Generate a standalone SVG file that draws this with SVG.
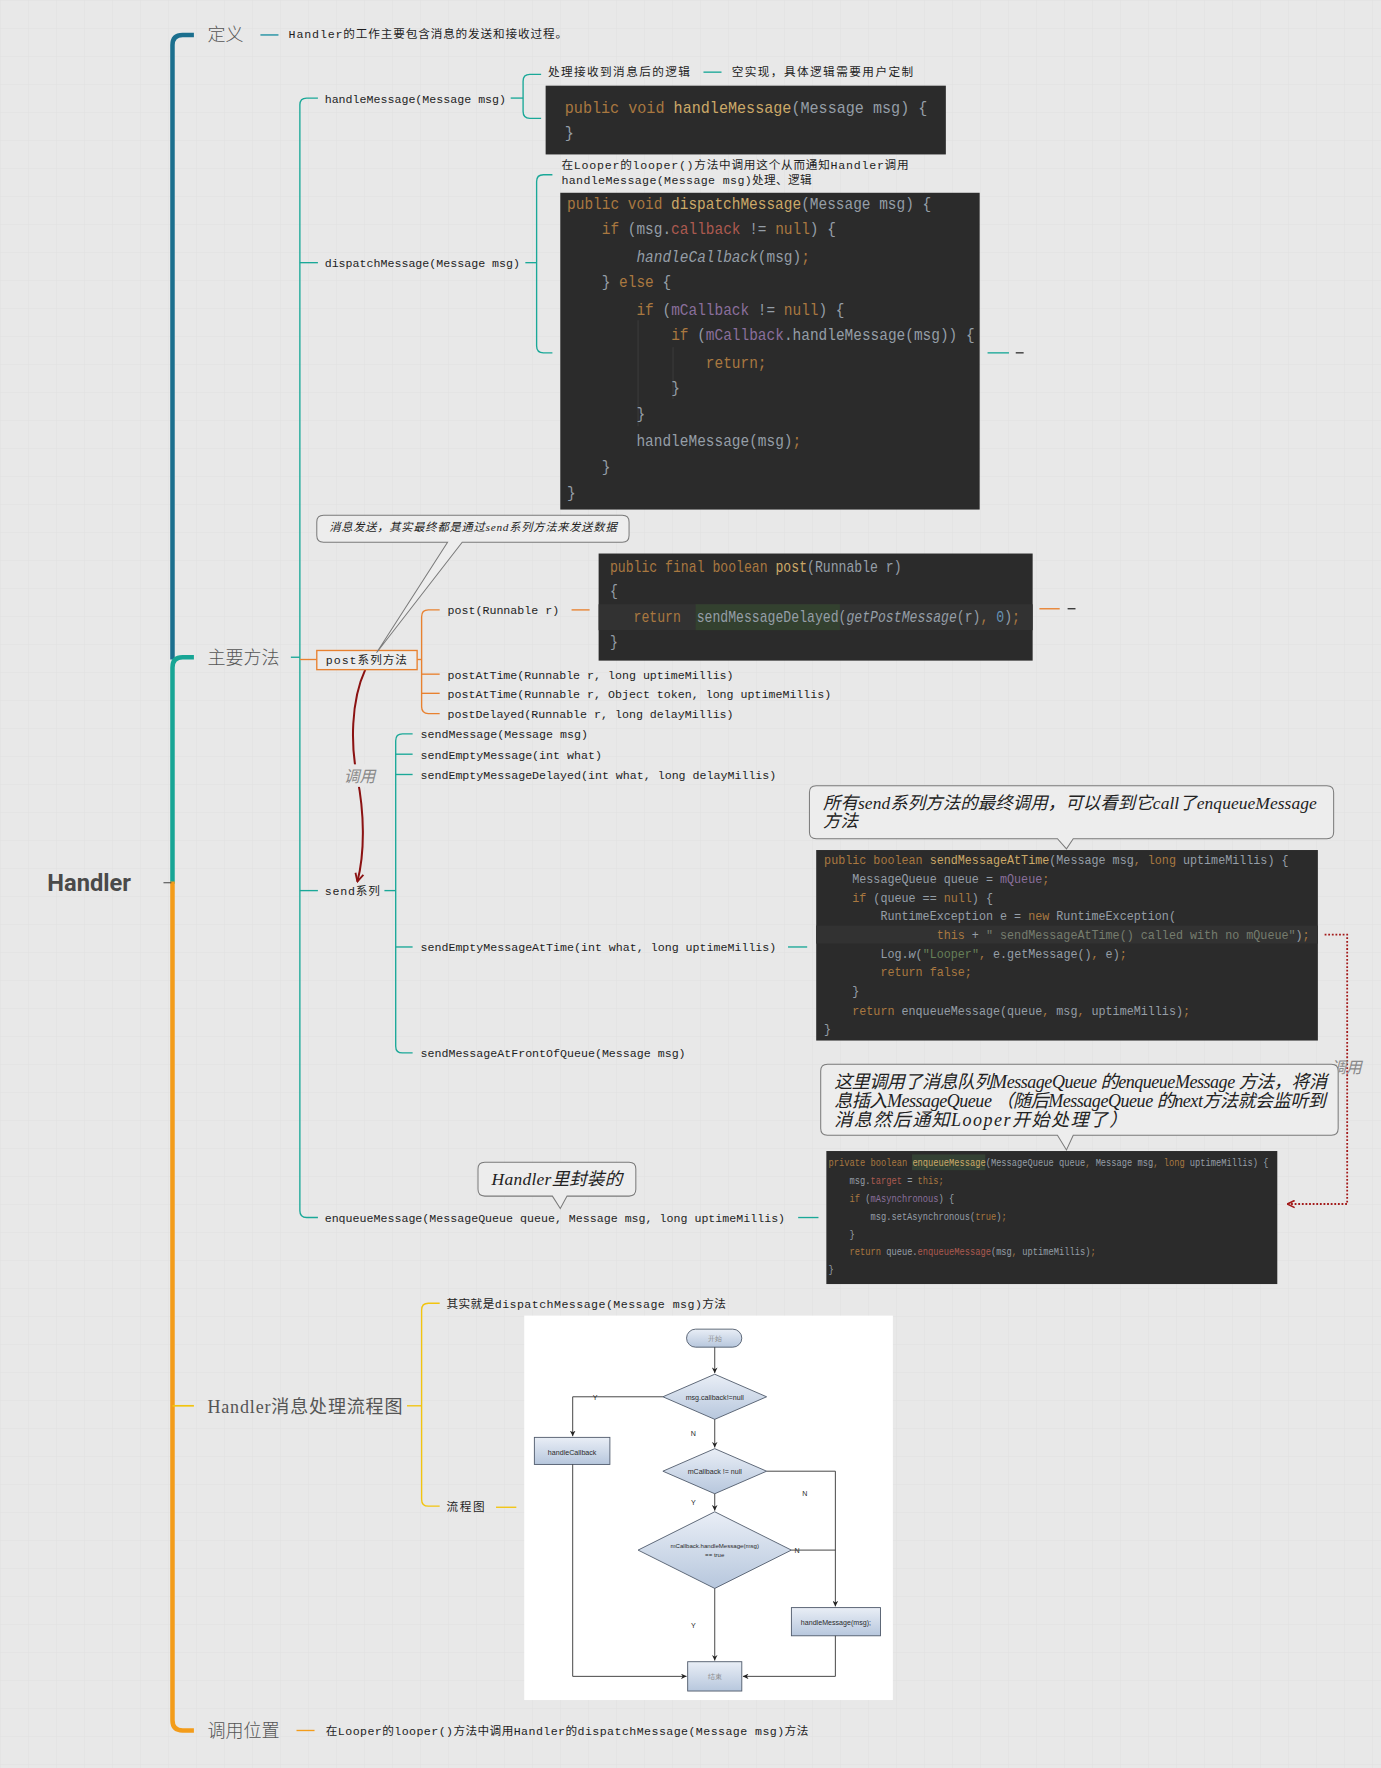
<svg xmlns="http://www.w3.org/2000/svg" width="1381" height="1768" viewBox="0 0 1381 1768">
<defs>
<style>
.t{font-family:"Liberation Mono","Noto Sans CJK SC",monospace;font-size:10.33px;fill:#1e1e1e}
.top{font-family:"Noto Sans CJK SC","Liberation Sans",sans-serif;font-size:16px;fill:#555;font-weight:300}
.topS{font-family:"Liberation Serif","Noto Sans CJK SC",serif;font-size:16px;fill:#555}
.root{font-family:Roboto,"Liberation Sans",sans-serif;font-weight:700;font-size:21px;fill:#4a4a4a}
.cl{font-family:"Liberation Serif","Noto Sans CJK SC",serif;font-style:italic;fill:#222}
.lbl{font-family:"Noto Sans CJK SC","Liberation Sans",sans-serif;font-style:italic;font-size:14px;fill:#8a8a8a}
.code{font-family:"Liberation Mono",monospace;white-space:pre;fill:#959ea7}
.k{fill:#a97840}.m{fill:#cba968}.p{fill:#8a6f9c}.r{fill:#ad5a50}.s{fill:#667f58}.sg{fill:#767d6e}.n{fill:#6590b2}.it{font-style:italic}
.box{fill:#2b2b2b}
.lt{stroke:#1aa898;fill:none;stroke-width:1.2}
.lo{stroke:#e8812f;fill:none;stroke-width:1.2}
.ly{stroke:#f2c40f;fill:none;stroke-width:1.2}
.co{fill:#ededed;stroke:#7a7a7a;stroke-width:0.9}
.fs{fill:url(#fg);stroke:#4f5a6b;stroke-width:0.8}
.ft{font-family:"Liberation Sans",Arial,sans-serif;font-size:6.3px;fill:#2a2a2a;text-anchor:middle}
.fl{stroke:#333;stroke-width:0.8;fill:none}
</style>
<linearGradient id="fg" x1="0" y1="0" x2="0" y2="1">
<stop offset="0" stop-color="#e9eef6"/>
<stop offset="1" stop-color="#b7c7dd"/>
</linearGradient>
<pattern id="grid" width="28" height="28" patternUnits="userSpaceOnUse">
<path d="M28 0 L0 0 0 28" fill="none" stroke="#dedede" stroke-width="0.8"/>
</pattern>
<marker id="fa" viewBox="0 0 8 8" refX="8" refY="4" markerWidth="5" markerHeight="5" markerUnits="userSpaceOnUse" orient="auto">
<path d="M0,0 L8,4 L0,8 L2.5,4 z" fill="#222"/>
</marker>
<marker id="ra" viewBox="0 0 10 10" refX="9" refY="5" markerWidth="9" markerHeight="9" markerUnits="userSpaceOnUse" orient="auto">
<path d="M1,1 L9,5 L1,9" fill="none" stroke="#8b1212" stroke-width="1.8"/>
</marker>
<marker id="rd" viewBox="0 0 10 10" refX="9" refY="5" markerWidth="8" markerHeight="8" markerUnits="userSpaceOnUse" orient="auto">
<path d="M1,1 L9,5 L1,9" fill="none" stroke="#a31a1a" stroke-width="1.8"/>
</marker>
</defs>
<rect width="1381" height="1768" fill="#e8e8e8"/>
<rect width="1381" height="1768" fill="url(#grid)"/>
<g transform="scale(1.12735)">

<g id="connectors">
<path d="M172 31 L162 31 Q153 31 153 40 L153 585" stroke="#1b6f8e" stroke-width="4" fill="none"/>
<path d="M172 583 L162 583 Q153 583 153 592 L153 784" stroke="#17a595" stroke-width="4" fill="none"/>
<path d="M153 782 L153 1526 Q153 1535 162 1535 L172 1535" stroke="#f39c1a" stroke-width="4" fill="none"/>
<path d="M153 1247 Q160 1247 163 1247 L172 1247" stroke="#f2c40f" stroke-width="1.5" fill="none"/>
<line x1="145" y1="783" x2="152" y2="783" stroke="#555" stroke-width="1"/>
<line x1="231" y1="31" x2="247" y2="31" stroke="#1a8ea0" stroke-width="1.2"/>
<line x1="258" y1="583" x2="266" y2="583" class="lt"/>
<path d="M282 87 L272 87 Q266 87 266 93 L266 1074 Q266 1080 272 1080 L282 1080" class="lt"/>
<line x1="266" y1="233" x2="282" y2="233" class="lt"/>
<line x1="266" y1="790" x2="282" y2="790" class="lt"/>
<line x1="266" y1="585" x2="281" y2="585" class="lo"/>
<line x1="453" y1="87" x2="464" y2="87" class="lt"/>
<path d="M480 66 L470 66 Q464 66 464 72 L464 99 Q464 105 470 105 L480 105" class="lt"/>
<line x1="466" y1="233" x2="476" y2="233" class="lt"/>
<path d="M490 155 L482 155 Q476 155 476 161 L476 307 Q476 313 482 313 L490 313" class="lt"/>
<line x1="876" y1="313" x2="895" y2="313" class="lt"/>
<line x1="624" y1="64" x2="640" y2="64" class="lt"/>
<line x1="370" y1="585" x2="374" y2="585" class="lo"/>
<path d="M390 541 L380 541 Q374 541 374 547 L374 627 Q374 633 380 633 L390 633" class="lo"/>
<line x1="374" y1="598" x2="390" y2="598" class="lo"/>
<line x1="374" y1="615" x2="390" y2="615" class="lo"/>
<line x1="507" y1="541" x2="523" y2="541" class="lo"/>
<line x1="922" y1="540" x2="940" y2="540" class="lo"/>
<line x1="341" y1="790" x2="351" y2="790" class="lt"/>
<path d="M366 651 L357 651 Q351 651 351 657 L351 928 Q351 934 357 934 L366 934" class="lt"/>
<line x1="351" y1="669" x2="366" y2="669" class="lt"/>
<line x1="351" y1="687" x2="366" y2="687" class="lt"/>
<line x1="351" y1="840" x2="366" y2="840" class="lt"/>
<line x1="699" y1="840" x2="716" y2="840" class="lt"/>
<line x1="708" y1="1080" x2="726" y2="1080" class="lt"/>
<line x1="361" y1="1247" x2="374" y2="1247" class="ly"/>
<path d="M390 1156 L380 1156 Q374 1156 374 1162 L374 1330 Q374 1336 380 1336 L390 1336" class="ly"/>
<line x1="440" y1="1337" x2="458" y2="1337" class="ly"/>
<line x1="263" y1="1535" x2="279" y2="1535" stroke="#f39c1a" stroke-width="1.2"/>
<path d="M324 594 C311 622 311 662 317 690 C323 720 324 755 317 782" stroke="#8b1212" stroke-width="1.8" fill="none" marker-end="url(#ra)"/>
<rect x="303" y="678" width="34" height="20" fill="#e8e8e8"/>
<text x="305" y="694" class="lbl">调用</text>
<path d="M1175 829 L1195 829 L1195 1068 L1142 1068" stroke="#a31a1a" stroke-width="1.6" stroke-dasharray="1.6 1.6" fill="none" marker-end="url(#rd)"/>
<text x="1180" y="952" class="lbl" fill="#999">调用</text>
</g>

<g id="root"><text x="42" y="790.5" class="root">Handler</text></g>

<g id="n-def">
<text x="184" y="36" class="top">定义</text>
<text x="256" y="34" class="t" textLength="247" lengthAdjust="spacing">Handler的工作主要包含消息的发送和接收过程。</text>
</g>

<g id="n-main"><text x="184" y="589" class="top">主要方法</text></g>

<g id="n-handleMessage">
<text x="288" y="91" class="t">handleMessage(Message msg)</text>
<text x="486" y="67" class="t" textLength="126" lengthAdjust="spacing">处理接收到消息后的逻辑</text>
<text x="649" y="67" class="t" textLength="161" lengthAdjust="spacing">空实现，具体逻辑需要用户定制</text>
<rect x="484" y="76" width="355" height="61" class="box"/>
<g transform="translate(501 0) scale(0.958 1)" font-size="14">
<text y="100" class="code"><tspan class="k">public void </tspan><tspan class="m">handleMessage</tspan>(Message msg) {</text>
<text y="122" class="code">}</text>
</g>
</g>

<g id="n-dispatchMessage">
<text x="288" y="237" class="t">dispatchMessage(Message msg)</text>
<text x="498" y="150" class="t" textLength="308" lengthAdjust="spacing">在Looper的looper()方法中调用这个从而通知Handler调用</text>
<text x="498" y="163" class="t" textLength="222" lengthAdjust="spacing">handleMessage(Message msg)处理、逻辑</text>
<rect x="497" y="171" width="372" height="281" class="box"/>
<line x1="566" y1="284" x2="566" y2="378" stroke="#3b3b3b" stroke-width="1"/>
<line x1="597" y1="308" x2="597" y2="354" stroke="#3b3b3b" stroke-width="1"/>
<g transform="translate(503 0) scale(0.855 1)" font-size="15">
<text x="0" y="185" class="code"><tspan class="k">public void </tspan><tspan class="m">dispatchMessage</tspan>(Message msg) {</text>
<text x="36" y="208" class="code"><tspan class="k">if</tspan> (msg.<tspan class="r">callback</tspan> != <tspan class="k">null</tspan>) {</text>
<text x="72" y="232" class="code"><tspan class="it">handleCallback</tspan>(msg)<tspan class="k">;</tspan></text>
<text x="36" y="255" class="code">} <tspan class="k">else</tspan> {</text>
<text x="72" y="279" class="code"><tspan class="k">if</tspan> (<tspan class="p">mCallback</tspan> != <tspan class="k">null</tspan>) {</text>
<text x="108" y="302" class="code"><tspan class="k">if</tspan> (<tspan class="p">mCallback</tspan>.handleMessage(msg)) {</text>
<text x="144" y="326" class="code"><tspan class="k">return;</tspan></text>
<text x="108" y="349" class="code">}</text>
<text x="72" y="372" class="code">}</text>
<text x="72" y="396" class="code">handleMessage(msg)<tspan class="k">;</tspan></text>
<text x="36" y="419" class="code">}</text>
<text x="0" y="442" class="code">}</text>
</g>
<line x1="901" y1="313" x2="908" y2="313" stroke="#111" stroke-width="1"/>
</g>

<g id="n-post">
<rect x="281" y="577" width="89" height="17" fill="#ececec" stroke="#e8812f" stroke-width="1.2"/>
<text x="289" y="589" class="t" textLength="72" lengthAdjust="spacing">post系列方法</text>
<text x="397" y="545" class="t">post(Runnable r)</text>
<text x="397" y="602" class="t">postAtTime(Runnable r, long uptimeMillis)</text>
<text x="397" y="619" class="t">postAtTime(Runnable r, Object token, long uptimeMillis)</text>
<text x="397" y="637" class="t">postDelayed(Runnable r, long delayMillis)</text>
<rect x="531" y="491" width="385" height="95" class="box"/>
<rect x="531" y="536" width="385" height="23" fill="#323232"/>
<rect x="617" y="536" width="128" height="23" fill="#33412f"/>
<g transform="translate(541 0) scale(0.833 1)" font-size="14">
<text x="0" y="507" class="code"><tspan class="k">public final boolean </tspan><tspan class="m">post</tspan>(Runnable r)</text>
<text x="0" y="529" class="code">{</text>
<text x="25.2" y="552" class="code"><tspan class="k">return  </tspan>sendMessageDelayed(<tspan class="it">getPostMessage</tspan>(r)<tspan class="k">, </tspan><tspan class="n">0</tspan>)<tspan class="k">;</tspan></text>
<text x="0" y="574" class="code">}</text>
</g>
<line x1="947" y1="540" x2="954" y2="540" stroke="#111" stroke-width="1"/>
<path d="M287 457 H552 Q558 457 558 463 V475 Q558 481 552 481 H410 L334 579 L397 481 H287 Q281 481 281 475 V463 Q281 457 287 457 Z" class="co"/>
<text x="292" y="471" class="cl" font-size="10" textLength="255" lengthAdjust="spacing">消息发送，其实最终都是通过send系列方法来发送数据</text>
</g>

<g id="n-send">
<text x="288" y="794" class="t" textLength="49" lengthAdjust="spacing">send系列</text>
<text x="373" y="655" class="t">sendMessage(Message msg)</text>
<text x="373" y="673" class="t">sendEmptyMessage(int what)</text>
<text x="373" y="691" class="t">sendEmptyMessageDelayed(int what, long delayMillis)</text>
<text x="373" y="844" class="t">sendEmptyMessageAtTime(int what, long uptimeMillis)</text>
<text x="373" y="938" class="t">sendMessageAtFrontOfQueue(Message msg)</text>
<rect x="724" y="754" width="445" height="169" class="box"/>
<rect x="724" y="821" width="445" height="16" fill="#323232"/>
<g transform="translate(731 0) scale(0.867 1)" font-size="12">
<text x="0" y="766" class="code"><tspan class="k">public boolean </tspan><tspan class="m">sendMessageAtTime</tspan>(Message msg<tspan class="k">, long </tspan>uptimeMillis) {</text>
<text x="28.8" y="783" class="code">MessageQueue queue = <tspan class="p">mQueue</tspan><tspan class="k">;</tspan></text>
<text x="28.8" y="800" class="code"><tspan class="k">if</tspan> (queue == <tspan class="k">null</tspan>) {</text>
<text x="57.6" y="816" class="code">RuntimeException e = <tspan class="k">new</tspan> RuntimeException(</text>
<text x="115.2" y="833" class="code"><tspan class="k">this</tspan> + <tspan class="sg">" sendMessageAtTime() called with no mQueue"</tspan>)<tspan class="k">;</tspan></text>
<text x="57.6" y="850" class="code">Log.<tspan class="it">w</tspan>(<tspan class="s">"Looper"</tspan><tspan class="k">, </tspan>e.getMessage()<tspan class="k">, </tspan>e)<tspan class="k">;</tspan></text>
<text x="57.6" y="866" class="code"><tspan class="k">return false;</tspan></text>
<text x="28.8" y="883" class="code">}</text>
<text x="28.8" y="900" class="code"><tspan class="k">return </tspan>enqueueMessage(queue<tspan class="k">, </tspan>msg<tspan class="k">, </tspan>uptimeMillis)<tspan class="k">;</tspan></text>
<text x="0" y="916" class="code">}</text>
</g>
<path d="M724 697 H1177 Q1183 697 1183 703 V738 Q1183 744 1177 744 H952 L946 753 L938 744 H724 Q718 744 718 738 V703 Q718 697 724 697 Z" class="co"/>
<text x="730" y="718" class="cl" font-size="15.5" textLength="438" lengthAdjust="spacing">所有send系列方法的最终调用，可以看到它call了enqueueMessage</text>
<text x="730" y="734" class="cl" font-size="15.5">方法</text>
</g>

<g id="n-enqueue">
<text x="288" y="1084" class="t">enqueueMessage(MessageQueue queue, Message msg, long uptimeMillis)</text>
<path d="M430 1031 H558 Q564 1031 564 1037 V1055 Q564 1061 558 1061 H503 L497 1072 L490 1061 H430 Q424 1061 424 1055 V1037 Q424 1031 430 1031 Z" class="co"/>
<text x="436" y="1051" class="cl" font-size="15.5" textLength="116" lengthAdjust="spacing">Handler里封装的</text>
<rect x="733" y="1021" width="400" height="118" class="box"/>
<rect x="809" y="1024" width="65" height="14" fill="#344134"/>
<g transform="translate(735 0) scale(0.774 1)" font-size="10">
<text x="0" y="1034.5" class="code"><tspan class="k">private boolean </tspan><tspan class="m">enqueueMessage</tspan>(MessageQueue queue<tspan class="k">, </tspan>Message msg<tspan class="k">, long </tspan>uptimeMillis) {</text>
<text x="24" y="1050.5" class="code">msg.<tspan class="r">target</tspan> = <tspan class="k">this;</tspan></text>
<text x="24" y="1066.5" class="code"><tspan class="k">if</tspan> (<tspan class="p">mAsynchronous</tspan>) {</text>
<text x="48" y="1082.5" class="code">msg.setAsynchronous(<tspan class="k">true</tspan>)<tspan class="k">;</tspan></text>
<text x="24" y="1098.5" class="code">}</text>
<text x="24" y="1113.5" class="code"><tspan class="k">return </tspan>queue.<tspan class="r">enqueueMessage</tspan>(msg<tspan class="k">, </tspan>uptimeMillis)<tspan class="k">;</tspan></text>
<text x="0" y="1129.5" class="code">}</text>
</g>
<path d="M734 944 H1181 Q1187 944 1187 950 V1001 Q1187 1007 1181 1007 H952 L946 1020 L938 1007 H734 Q728 1007 728 1001 V950 Q728 944 734 944 Z" class="co"/>
<text x="740" y="965" class="cl" font-size="16" textLength="437" lengthAdjust="spacing">这里调用了消息队列MessageQueue 的enqueueMessage 方法，将消</text>
<text x="740" y="982" class="cl" font-size="16" textLength="436" lengthAdjust="spacing">息插入MessageQueue （随后MessageQueue 的next方法就会监听到</text>
<text x="740" y="999" class="cl" font-size="16" textLength="260" lengthAdjust="spacing">消息然后通知Looper开始处理了）</text>
</g>

<g id="n-flow">
<text x="184" y="1253" class="topS" textLength="173" lengthAdjust="spacing">Handler消息处理流程图</text>
<text x="396" y="1160" class="t" textLength="248" lengthAdjust="spacing">其实就是dispatchMessage(Message msg)方法</text>
<text x="396" y="1340" class="t" textLength="34" lengthAdjust="spacing">流程图</text>
</g>

<g id="n-flowchart">
<rect x="465" y="1167" width="327" height="341" fill="#ffffff"/>
<rect x="609" y="1179" width="49" height="16" rx="8" class="fs"/>
<text x="634" y="1189.5" class="ft" style="fill:#8a8a8a">开始</text>
<line x1="634" y1="1195" x2="634" y2="1218" class="fl" marker-end="url(#fa)"/>
<polygon points="588,1239 634,1219 680,1239 634,1259" class="fs"/>
<text x="634" y="1241.5" class="ft">msg.callback!=null</text>
<path d="M588 1239 L508 1239 L508 1274" class="fl" marker-end="url(#fa)"/>
<text x="528" y="1241.5" class="ft">Y</text>
<rect x="474" y="1275" width="67" height="24" class="fs"/>
<text x="507.5" y="1291" class="ft">handleCallback</text>
<text x="615" y="1274" class="ft">N</text>
<line x1="634" y1="1259" x2="634" y2="1284" class="fl" marker-end="url(#fa)"/>
<polygon points="588,1305 634,1285 680,1305 634,1325" class="fs"/>
<text x="634" y="1307.5" class="ft">mCallback != null</text>
<path d="M680 1305 L741 1305 L741 1425" class="fl" marker-end="url(#fa)"/>
<text x="714" y="1327" class="ft">N</text>
<text x="615" y="1335" class="ft">Y</text>
<line x1="634" y1="1325" x2="634" y2="1340" class="fl" marker-end="url(#fa)"/>
<polygon points="566,1375 634,1341 702,1375 634,1409" class="fs"/>
<text x="634" y="1373" class="ft" style="font-size:5.4px">mCallback.handleMessage(msg)</text>
<text x="634" y="1381.5" class="ft" style="font-size:5.4px">== true</text>
<line x1="702" y1="1375" x2="741" y2="1375" class="fl"/>
<text x="707" y="1377.5" class="ft">N</text>
<text x="615" y="1444" class="ft">Y</text>
<line x1="634" y1="1409" x2="634" y2="1473" class="fl" marker-end="url(#fa)"/>
<rect x="610" y="1474" width="48" height="26" class="fs"/>
<text x="634" y="1489.5" class="ft" style="fill:#8a8a8a">结束</text>
<rect x="702" y="1426" width="79" height="25" class="fs"/>
<text x="741.5" y="1441" class="ft">handleMessage(msg);</text>
<path d="M508 1299 L508 1487 L609 1487" class="fl" marker-end="url(#fa)"/>
<path d="M741 1451 L741 1487 L659 1487" class="fl" marker-end="url(#fa)"/>
</g>

<g id="n-callsite">
<text x="184" y="1541" class="top">调用位置</text>
<text x="289" y="1539" class="t" textLength="428" lengthAdjust="spacing">在Looper的looper()方法中调用Handler的dispatchMessage(Message msg)方法</text>
</g>

</g>
</svg>
